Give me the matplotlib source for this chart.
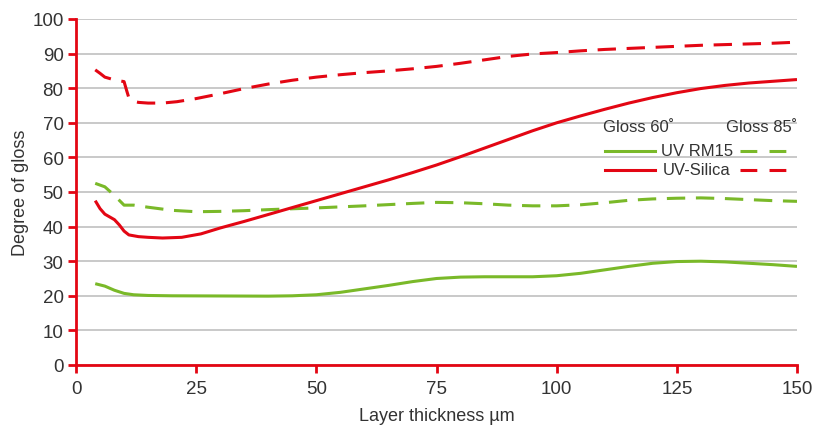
import matplotlib
matplotlib.use("Agg")
import matplotlib.pyplot as plt
from matplotlib.lines import Line2D

plt.rcParams['font.family'] = ['Liberation Sans', 'DejaVu Sans']

GREEN = '#7ab929'
RED = '#e30613'
TEXT = '#333333'

# UV RM15, Gloss 60°
rm15_60_x = [4, 6, 8, 10, 12, 15, 20, 30, 40, 45, 50, 55, 60, 65, 70, 75, 80, 85, 90, 95, 100, 105, 110, 115, 120, 125, 130, 135, 140, 145, 150]
rm15_60_y = [23.5, 22.8, 21.6, 20.7, 20.3, 20.1, 20.0, 19.95, 19.9, 20.0, 20.3, 21.0, 22.0, 23.0, 24.1, 25.0, 25.4, 25.5, 25.5, 25.5, 25.8, 26.5, 27.5, 28.5, 29.4, 29.9, 30.0, 29.8, 29.4, 29.0, 28.5]

# UV RM15, Gloss 85°
rm15_85_x = [4, 6, 8, 10, 12, 15, 20, 25, 30, 35, 40, 50, 60, 70, 75, 80, 85, 90, 95, 100, 105, 110, 115, 120, 125, 130, 135, 140, 145, 150]
rm15_85_y = [52.5, 51.5, 49.0, 46.2, 46.2, 45.6, 44.7, 44.3, 44.4, 44.6, 44.9, 45.4, 46.0, 46.7, 47.0, 46.9, 46.6, 46.2, 46.0, 46.0, 46.3, 46.9, 47.6, 48.0, 48.2, 48.3, 48.1, 47.8, 47.5, 47.3]

# UV-Silica, Gloss 60°
sil_60_x = [4, 5, 6, 8, 9, 10, 11, 13, 15, 18, 22, 26, 30, 35, 40, 45, 50, 55, 60, 65, 70, 75, 80, 85, 90, 95, 100, 105, 110, 115, 120, 125, 130, 135, 140, 145, 150]
sil_60_y = [47.5, 45.2, 43.6, 42.0, 40.5, 38.7, 37.6, 37.1, 36.9, 36.7, 36.9, 37.9, 39.6, 41.5, 43.5, 45.5, 47.5, 49.5, 51.5, 53.5, 55.6, 57.8, 60.2, 62.7, 65.2, 67.7, 70.0, 72.0, 73.9, 75.7, 77.3, 78.7, 79.9, 80.8, 81.5, 82.0, 82.5]

# UV-Silica, Gloss 85°
sil_85_x = [4, 5, 6, 8, 10, 10.5, 11, 12, 13, 15, 18, 21, 25, 30, 35, 40, 45, 50, 55, 60, 65, 70, 75, 80, 85, 90, 95, 100, 105, 110, 115, 120, 125, 130, 135, 140, 145, 150]
sil_85_y = [85.3, 84.3, 83.2, 82.4, 81.9, 79.5, 77.2, 76.2, 75.9, 75.7, 75.7, 76.1, 77.0, 78.4, 79.9, 81.2, 82.3, 83.2, 83.9, 84.5, 85.0, 85.6, 86.3, 87.2, 88.2, 89.2, 89.9, 90.3, 90.8, 91.2, 91.5, 91.8, 92.1, 92.4, 92.6, 92.8, 93.0, 93.3]

x_ticks = [0, 25, 50, 75, 100, 125, 150]
y_ticks = [0, 10, 20, 30, 40, 50, 60, 70, 80, 90, 100]

fig = plt.figure(figsize=(8.28, 4.27), dpi=100)
ax = fig.add_axes([76/828, 1-366/427, (797-76)/828, (366-20)/427])

ax.plot(rm15_60_x, rm15_60_y, color=GREEN, lw=2.2, solid_capstyle='butt')
ax.plot(rm15_85_x, rm15_85_y, color=GREEN, lw=2.2, dashes=(6, 3.5))
ax.plot(sil_60_x, sil_60_y, color=RED, lw=2.2, solid_capstyle='butt')
ax.plot(sil_85_x, sil_85_y, color=RED, lw=2.2, dashes=(6, 3.5))

ax.set_xlim(0, 150)
ax.set_ylim(0, 100)
ax.set_xticks(x_ticks)
ax.set_yticks(y_ticks)
ax.grid(axis='y', color='#c0c0c0', lw=1.2)
ax.set_axisbelow(True)
for s in ['top', 'right']:
    ax.spines[s].set_visible(False)
for s in ['left', 'bottom']:
    ax.spines[s].set_color(RED)
    ax.spines[s].set_linewidth(2)
ax.tick_params(axis='both', colors=RED, width=2, length=6, labelsize=13.5, labelcolor=TEXT)
ax.tick_params(axis='x', pad=5)
ax.tick_params(axis='y', pad=3)
ax.set_xlabel('Layer thickness µm', fontsize=13, color=TEXT, labelpad=7)
ax.set_ylabel('Degree of gloss', fontsize=13, color=TEXT, labelpad=2)

# Manual legend
fig.text(603/828, 1-127/427, 'Gloss 60˚', fontsize=12, color=TEXT, va='center', ha='left')
fig.text(797/828, 1-127/427, 'Gloss 85˚', fontsize=12, color=TEXT, va='center', ha='right')
fig.text(697/828, 1-152/427, 'UV RM15', fontsize=12, color=TEXT, va='center', ha='center')
fig.text(697/828, 1-171/427, 'UV-Silica', fontsize=12, color=TEXT, va='center', ha='center')
for yy, c in [(152, GREEN), (171, RED)]:
    fig.add_artist(Line2D([605/828, 655/828], [1-yy/427]*2, color=c, lw=2.2))
    fig.add_artist(Line2D([740/828, 790/828], [1-yy/427]*2, color=c, lw=2.2, dashes=(5.5, 4)))

fig.savefig('out.png', dpi=100)
